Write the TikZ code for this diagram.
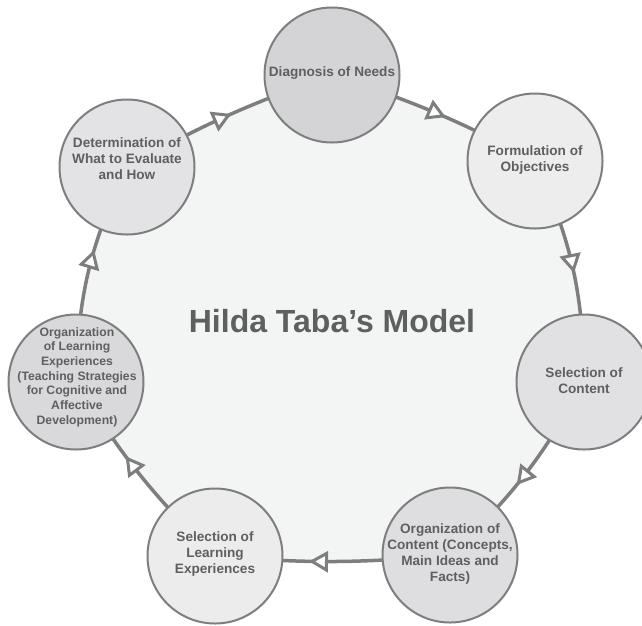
\documentclass[tikz,border=0pt]{standalone}
\usepackage{fontspec}
\setmainfont{Liberation Sans}
\usetikzlibrary{arrows.meta,decorations.markings,backgrounds}
\definecolor{bgfill}{HTML}{F3F5F5}
\definecolor{edge}{HTML}{7E7E80}
\definecolor{txt}{HTML}{5E5F61}
\definecolor{nA}{HTML}{D4D4D6}
\definecolor{nB}{HTML}{EDEDEE}
\definecolor{nC}{HTML}{E1E1E3}
\definecolor{nD}{HTML}{DEDEE0}
\definecolor{nE}{HTML}{ECECED}
\definecolor{nF}{HTML}{D9D9DB}
\definecolor{nG}{HTML}{E3E3E5}
\begin{document}
\begin{tikzpicture}[x=1pt,y=-1pt,
  stage/.style={circle, draw=edge, line width=2pt, minimum size=135pt, inner sep=0pt},
  stagetext/.style={align=center, text=txt, inner sep=0pt, font=\fontsize{13.6}{16}\selectfont\bfseries},
  smalltext/.style={stagetext, font=\fontsize{12.2}{14.7}\selectfont\bfseries},
  titletext/.style={text=txt, inner sep=0pt, font=\fontsize{32}{38}\selectfont\bfseries},
  tri/.tip={Triangle[length=19pt,width=21pt,fill=white,line width=3pt]},
  link/.style={draw=edge, color=edge, line width=3.5pt},
  midarrow/.style={postaction={decorate,decoration={markings,mark=at position #1 with {\arrow{tri}}}}}
]
\useasboundingbox (0,0) rectangle (642,625);
\clip (0,0) rectangle (642,625);

\node[stage, fill=nA] (diag) at (332,75) {};
\node[stage, fill=nB] (form) at (535,161) {};
\node[stage, fill=nC] (selc) at (584,382) {};
\node[stage, fill=nD] (orgc) at (450,555) {};
\node[stage, fill=nE] (sell) at (215,556) {};
\node[stage, fill=nF] (orgl) at (76,382) {};
\node[stage, fill=nG] (det) at (127,167) {};

\node[stagetext] (diagt) at (332,73) {Diagnosis of Needs};
\node[stagetext] (formt) at (535,160) {Formulation of\\Objectives};
\node[stagetext] (selct) at (584,381) {Selection of\\Content};
\node[stagetext] (orgct) at (450,554) {Organization of\\Content (Concepts,\\Main Ideas and\\Facts)};
\node[stagetext] (sellt) at (215,554) {Selection of\\Learning\\Experiences};
\node[smalltext] (orglt) at (77,377) {Organization\\of Learning\\Experiences\\(Teaching Strategies\\for Cognitive and\\Affective\\Development)};
\node[stagetext] (dett) at (127,159) {Determination of\\What to Evaluate\\and How};

\node[titletext] (title) at (332,321) {Hilda Taba’s Model};

\begin{scope}[on background layer]
  \fill[bgfill] (diag.center) to[bend left=5] (form.center) to[bend left=12] (selc.center)
    to[bend left=9] (orgc.center) to[bend left=5] (sell.center) to[bend left=7] (orgl.center)
    to[bend left=12] (det.center) to[bend left=5] (diag.center) -- cycle;
  \draw[link, midarrow=0.55] (diag.center) to[bend left=5] (form.center);
  \draw[link, midarrow=0.52] (form.center) to[bend left=12] (selc.center);
  \draw[link, midarrow=0.56] (selc.center) to[bend left=9] (orgc.center);
  \draw[link, midarrow=0.6] (orgc.center) to[bend left=5] (sell.center);
  \draw[link, midarrow=0.6] (sell.center) to[bend left=7] (orgl.center);
  \draw[link, midarrow=0.6] (orgl.center) to[bend left=12] (det.center);
  \draw[link, midarrow=0.52] (det.center) to[bend left=5] (diag.center);
\end{scope}
\end{tikzpicture}
\end{document}
